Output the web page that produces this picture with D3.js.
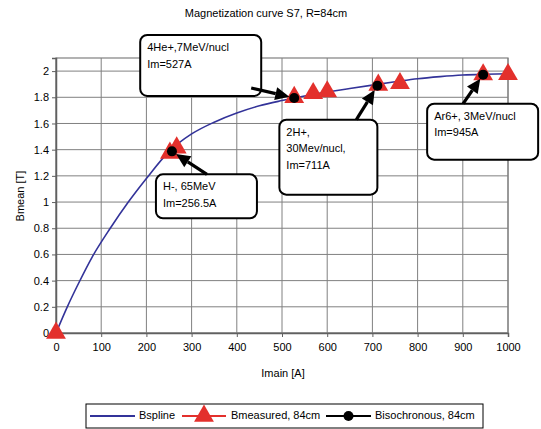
<!DOCTYPE html>
<html>
<head>
<meta charset="utf-8">
<script src="https://cdn.jsdelivr.net/npm/d3@7"></script>
<style>
html,body{margin:0;padding:0;background:#fff;}
svg{display:block;font-family:"Liberation Sans",Arial,sans-serif;}
</style>
</head>
<body>
<svg id="chart" width="541" height="429"></svg>
<script>
// ---- data ----
const splineI = [0, 25, 50, 80, 120, 160, 200, 250, 300, 350, 400, 450, 500, 550, 600, 650, 700, 750, 800, 850, 900, 950, 1000];
const splineB = [0, 0.2, 0.38, 0.58, 0.8, 1.0, 1.18, 1.385, 1.52, 1.61, 1.68, 1.735, 1.775, 1.81, 1.84, 1.867, 1.893, 1.918, 1.942, 1.958, 1.97, 1.976, 1.98];
const measI = [0, 252, 267, 527, 569, 600, 713, 761, 945, 1000];
const measB = [0, 1.375, 1.415, 1.80, 1.83, 1.843, 1.894, 1.906, 1.973, 1.975];
const isoI = [256.5, 527, 711, 945];
const isoB = [1.387, 1.795, 1.889, 1.973];
const xTicks = [0, 100, 200, 300, 400, 500, 600, 700, 800, 900, 1000];
const yTicks = [0, 0.2, 0.4, 0.6, 0.8, 1, 1.2, 1.4, 1.6, 1.8, 2];
const calloutText = [
  ["4He+,7MeV/nucl", "Im=527A"],
  ["2H+,", "30Mev/nucl,", "Im=711A"],
  ["Ar6+, 3MeV/nucl", "Im=945A"],
  ["H-, 65MeV", "Im=256.5A"]
];
const calloutPoint = [1, 2, 3, 0]; // index into iso arrays
const legendNames = ["Bspline", "Bmeasured, 84cm", "Bisochronous, 84cm"];
const titleText = "Magnetization curve S7, R=84cm";

// ---- layout ----
const svg = d3.select("#chart");
const L = 56, R = 508, T = 58, B = 333;
const x = d3.scaleLinear().domain([0, 1000]).range([L, R]);
const y = d3.scaleLinear().domain([0, 2.1]).range([B, T]);
const font = 11;
const blue = "#333399", red = "#e3302c";

// title
svg.append("text").attr("x", 266).attr("y", 14).attr("text-anchor", "middle")
  .attr("dominant-baseline", "middle").attr("font-size", font).text(titleText);

// gridlines
const g = svg.append("g");
g.selectAll(".vg").data(xTicks).join("line")
  .attr("x1", d => x(d)).attr("x2", d => x(d)).attr("y1", T).attr("y2", B)
  .attr("stroke", "#808080").attr("stroke-width", 1);
g.selectAll(".hg").data(yTicks).join("line")
  .attr("x1", L).attr("x2", R).attr("y1", d => y(d)).attr("y2", d => y(d))
  .attr("stroke", "#808080").attr("stroke-width", 1);
g.append("rect").attr("x", L).attr("y", T).attr("width", R - L).attr("height", B - T)
  .attr("fill", "none").attr("stroke", "#808080").attr("stroke-width", 1.2);

// axes
const xAxis = d3.axisBottom(x).tickValues(xTicks).tickSize(4).tickPadding(6).tickFormat(d3.format("d"));
const yAxis = d3.axisLeft(y).tickValues(yTicks).tickSize(4).tickPadding(3).tickFormat(d => String(+d.toFixed(1)));
const gx = svg.append("g").attr("transform", `translate(0,${B})`).call(xAxis);
const gy = svg.append("g").attr("transform", `translate(${L},0)`).call(yAxis);
[gx, gy].forEach(a => {
  a.select(".domain").attr("stroke", "#606060").attr("stroke-width", 1.5);
  a.selectAll(".tick line").attr("stroke", "#606060");
  a.selectAll("text").attr("font-size", font).attr("fill", "#000")
    .attr("font-family", "'Liberation Sans',Arial,sans-serif");
});

// axis titles
svg.append("text").attr("x", 283).attr("y", 374).attr("text-anchor", "middle")
  .attr("dominant-baseline", "middle").attr("font-size", font).text("Imain [A]");
svg.append("text").attr("transform", "translate(21,196) rotate(-90)").attr("text-anchor", "middle")
  .attr("dominant-baseline", "middle").attr("font-size", font).text("Bmean [T]");

// spline
const spline = splineI.map((d, i) => [d, splineB[i]]);
svg.append("path").datum(spline)
  .attr("d", d3.line().x(d => x(d[0])).y(d => y(d[1])).curve(d3.curveMonotoneX))
  .attr("fill", "none").attr("stroke", blue).attr("stroke-width", 1.6);

// measured triangles
const tri = d3.symbol().type(d3.symbolTriangle).size(170);
svg.selectAll(".m").data(measI.map((d, i) => [d, measB[i]])).join("path")
  .attr("transform", d => `translate(${x(d[0])},${y(d[1])})`)
  .attr("d", tri).attr("fill", red);

// iso circles
svg.selectAll(".iso").data(isoI.map((d, i) => [d, isoB[i]])).join("circle")
  .attr("cx", d => x(d[0])).attr("cy", d => y(d[1])).attr("r", 5).attr("fill", "#000");

// callouts: box offset relative to point (dx,dy,w,h), arrow start offset (ax,ay)
const calloutGeom = [
  {dx: -154, dy: -63, w: 121, h: 61, ax: -43, ay: -10},
  {dx: -98, dy: 34, w: 98, h: 75, ax: -21, ay: 34},
  {dx: -56, dy: 29, w: 111, h: 56, ax: -20, ay: 29},
  {dx: -16, dy: 23, w: 101, h: 44, ax: 35, ay: 23}
];
const cg = svg.append("g");
calloutText.forEach((lines, k) => {
  const pi = calloutPoint[k];
  const px = x(isoI[pi]), py = y(isoB[pi]);
  const c = calloutGeom[k];
  const bx = px + c.dx, by = py + c.dy;
  cg.append("rect").attr("x", bx).attr("y", by).attr("width", c.w).attr("height", c.h)
    .attr("rx", 7).attr("ry", 7).attr("fill", "#fff").attr("stroke", "#000").attr("stroke-width", 2);
  lines.forEach((t, j) => {
    cg.append("text").attr("x", bx + 7).attr("y", by + 13 + j * 16.7)
      .attr("dominant-baseline", "middle").attr("font-size", font).text(t);
  });
  // arrow
  const sx = px + c.ax, sy = py + c.ay;
  const ang = Math.atan2(py - sy, px - sx);
  const tipx = px - 5 * Math.cos(ang), tipy = py - 5 * Math.sin(ang);
  const hl = 14, hw = 6.5;
  const bxh = tipx - hl * Math.cos(ang), byh = tipy - hl * Math.sin(ang);
  cg.append("line").attr("x1", sx).attr("y1", sy).attr("x2", bxh).attr("y2", byh)
    .attr("stroke", "#000").attr("stroke-width", 3.2);
  const nx = -Math.sin(ang), ny = Math.cos(ang);
  cg.append("path").attr("d", `M${tipx},${tipy}L${bxh + nx * hw},${byh + ny * hw}L${bxh - nx * hw},${byh - ny * hw}Z`)
    .attr("fill", "#000");
});

// legend
const lg = svg.append("g");
lg.append("rect").attr("x", 86).attr("y", 404).attr("width", 397).attr("height", 24)
  .attr("fill", "#fff").attr("stroke", "#000").attr("stroke-width", 1);
const ly = 416;
const legendItems = [
  {x1: 90, x2: 135, color: blue, marker: null, tx: 139},
  {x1: 182, x2: 226, color: red, marker: "tri", tx: 231},
  {x1: 326, x2: 371, color: "#000", marker: "circ", tx: 375}
];
legendItems.forEach((it, i) => {
  lg.append("line").attr("x1", it.x1).attr("x2", it.x2).attr("y1", ly).attr("y2", ly)
    .attr("stroke", it.color).attr("stroke-width", 2);
  const mx = (it.x1 + it.x2) / 2;
  if (it.marker === "tri") lg.append("path").attr("transform", `translate(${mx},${ly})`).attr("d", tri).attr("fill", red);
  if (it.marker === "circ") lg.append("circle").attr("cx", mx).attr("cy", ly).attr("r", 5).attr("fill", "#000");
  lg.append("text").attr("x", it.tx).attr("y", ly).attr("dominant-baseline", "middle")
    .attr("font-size", font).text(legendNames[i]);
});
</script>
</body>
</html>
